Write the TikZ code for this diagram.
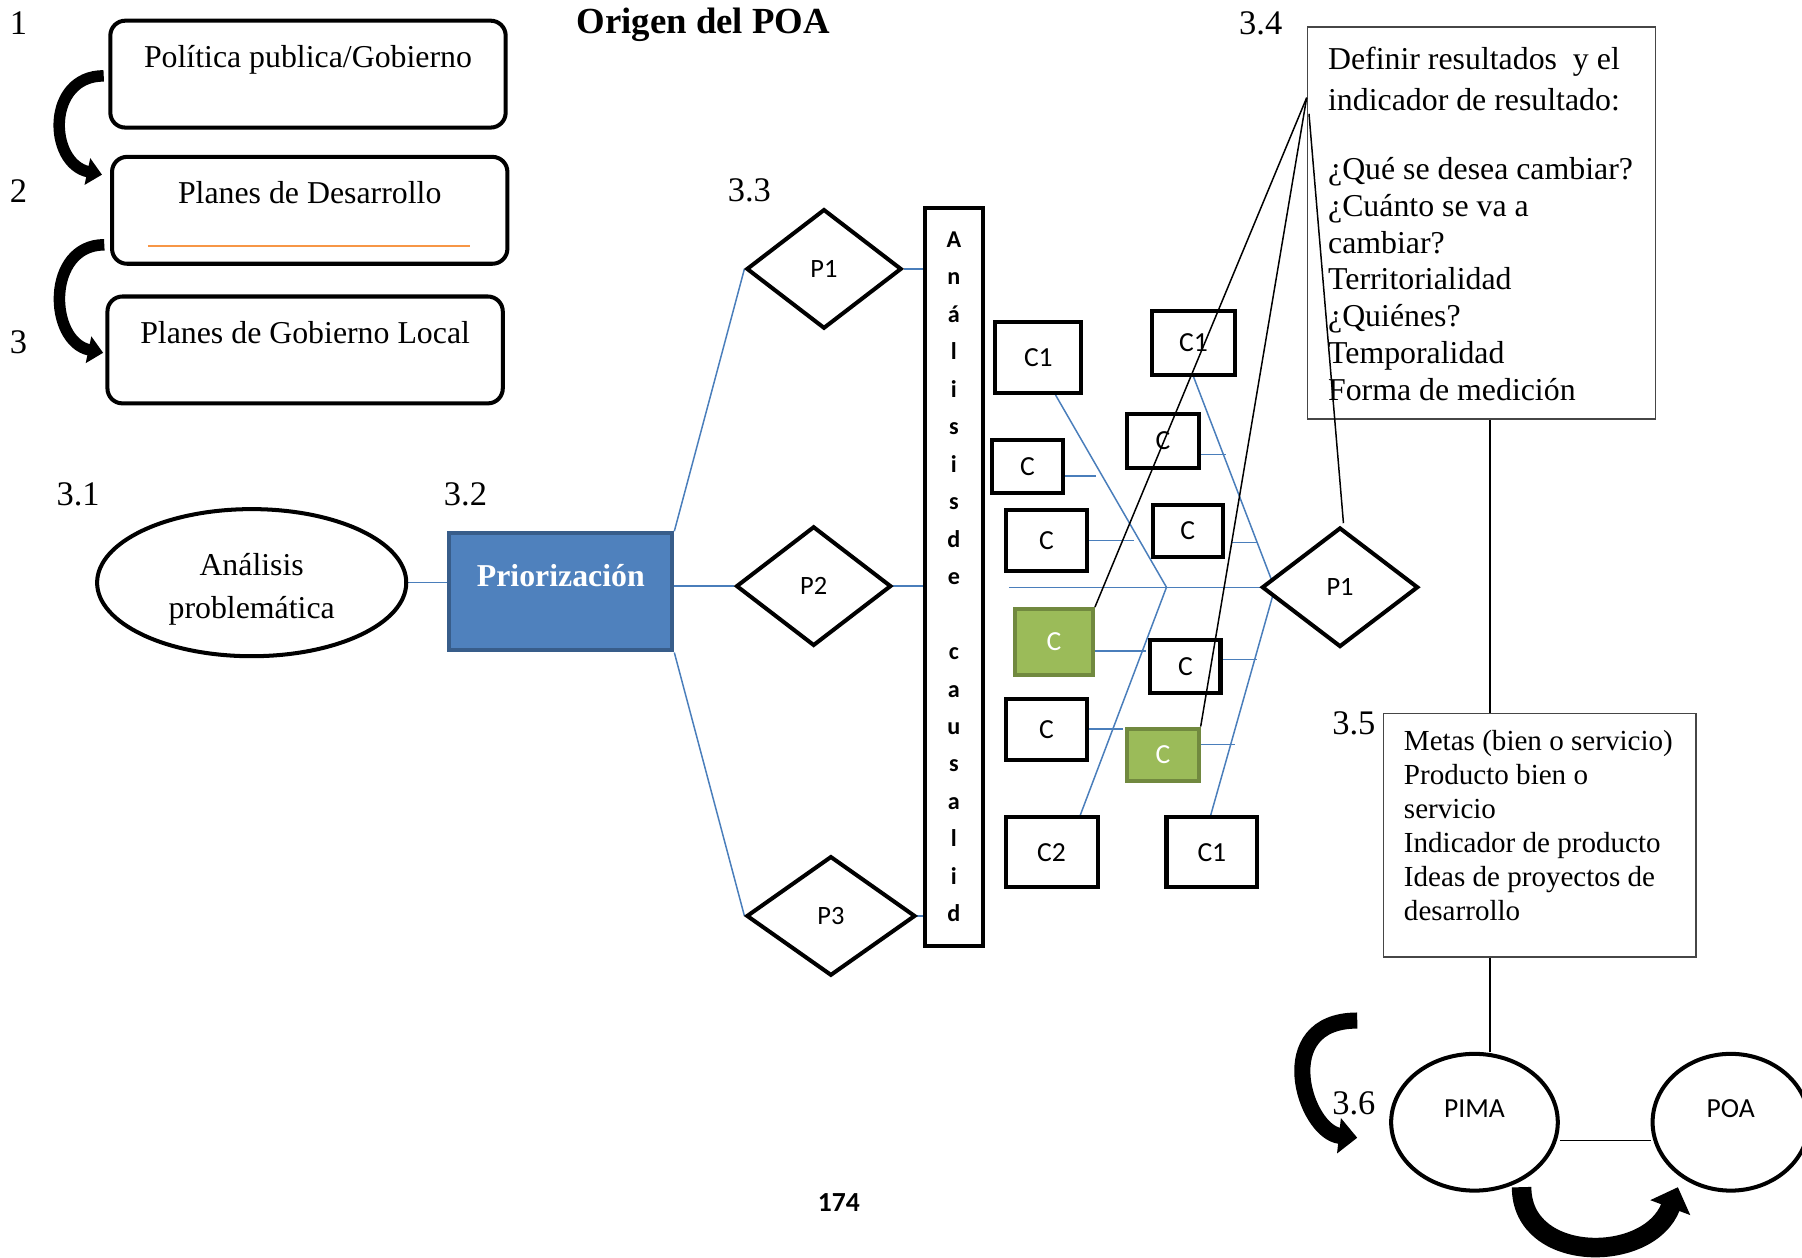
\documentclass[tikz,border=0pt]{standalone}
\usepackage{fontspec}
\setmainfont{Liberation Serif}
\newfontfamily\calib{Carlito}
\usetikzlibrary{shapes.geometric,arrows.meta,calc}
\pgfdeclarelayer{bg}
\pgfsetlayers{bg,main}

\definecolor{wblue}{RGB}{74,126,187}
\definecolor{pfill}{RGB}{79,129,189}
\definecolor{pdraw}{RGB}{56,93,138}
\definecolor{gfill}{RGB}{155,187,89}
\definecolor{gdraw}{RGB}{113,137,63}
\definecolor{orng}{RGB}{247,150,70}
\definecolor{frame}{RGB}{70,70,70}

\tikzset{
  num/.style={inner sep=0pt, font=\fontsize{30}{32}\selectfont},
  stage/.style={draw, line width=3.5pt, rounded corners=13pt, minimum width=344pt,
    minimum height=93pt, inner sep=0pt, font=\fontsize{27.7}{32}\selectfont,
    text height=17pt, text depth=29pt},
  prob/.style={diamond, draw, line width=3.5pt, fill=white, inner sep=0pt,
    minimum width=135pt, minimum height=104pt, font=\calib\fontsize{23}{24}\selectfont},
  cbox/.style={draw, line width=3.5pt, fill=white, inner sep=0pt,
    font=\calib\fontsize{24}{26}\selectfont},
  gbox/.style={cbox, draw=gdraw, fill=gfill, text=white},
  blueline/.style={draw=wblue, line width=1.3pt},
  blackline/.style={draw=black, line width=1.3pt},
  infobox/.style={draw=frame, line width=1.3pt, inner sep=0pt, fill=white},
  oval/.style={ellipse, draw, line width=3.5pt, inner sep=0pt},
  endoval/.style={oval, minimum height=119pt, font=\calib\fontsize{24}{26}\selectfont,
    text height=16pt, text depth=25pt},
  smallarrow/.style={line width=10pt, -{Triangle[length=13pt,width=23pt]}},
}

\begin{document}
\begin{tikzpicture}[x=1pt,y=-1pt]
\useasboundingbox (0,0) rectangle (1568,1094);

% ---------- steps 1 to 3 ----------
\node[num] (l1) at (16,20) {1};
\node[num] (l2) at (16,166) {2};
\node[num] (l3) at (16,298) {3};
\node[stage] (s1) at (268,64.5) {Política publica/Gobierno};
\node[stage] (s2) at (269.5,183) {Planes de Desarrollo};
\node[stage] (s3) at (265.5,304.5) {Planes de Gobierno Local};
\draw[orng, line width=1.8pt] ($(s2.south west)+(33,-17)$) -- ($(s2.south east)+(-34,-17)$);
\draw[smallarrow] ($(s1.west)+(-4,1.5)$) .. controls (40,66) and (42,142) .. ($(s2.west)+(-7,-31)$);
\draw[smallarrow] ($(s2.west)+(-5,30)$) .. controls (40,213) and (42,297) .. ($(s3.west)+(-2,2.5)$);

% ---------- title ----------
\node[inner sep=0pt, font=\bfseries\fontsize{32}{34}\selectfont] (title) at (612,22) {Origen del POA};

% ---------- 3.1 and 3.2 ----------
\node[num] (l31) at (68,430) {3.1};
\node[num] (l32) at (405,430) {3.2};
\node[oval, minimum width=269pt, minimum height=128pt, align=center,
      font=\fontsize{27.7}{37}\selectfont] (ana) at (219,507)
      {\rule{0pt}{31pt}Análisis\\problemática};
\node[draw=pdraw, fill=pfill, line width=3.5pt, minimum width=194pt, minimum height=102pt,
      inner sep=0pt, text=white, font=\bfseries\fontsize{27.7}{30}\selectfont,
      text height=18pt, text depth=27pt] (prio) at (488,515) {Priorización};

% ---------- 3.3 problems ----------
\node[num] (l33) at (652,166) {3.3};
\node[prob] (p1) at (717,234) {P1};
\node[prob] (p2) at (708,510) {P2};
\node[prob, minimum width=147pt] (p3) at (723,797) {P3};
\node[draw, line width=3.5pt, fill=white, minimum width=50pt, minimum height=642pt,
      inner sep=0pt, align=center, font=\calib\bfseries\fontsize{21}{32.6}\selectfont]
      (causal) at (830,502)
      {A\\n\\á\\l\\i\\s\\i\\s\\d\\e\\\mbox{}\\c\\a\\u\\s\\a\\l\\i\\d};

% ---------- causes ----------
\node[cbox, minimum width=75pt, minimum height=62pt] (c1a) at (903.5,311) {C1};
\node[cbox, minimum width=73pt, minimum height=55pt] (c1b) at (1038.5,298.5) {C1};
\node[cbox, minimum width=62pt, minimum height=46pt] (ca) at (894,406) {C};
\node[cbox, minimum width=62pt, minimum height=47pt] (cb) at (1012,383.5) {C};
\node[cbox, minimum width=71pt, minimum height=53pt] (cc) at (910.5,470.5) {C};
\node[cbox, minimum width=61pt, minimum height=46pt] (cd) at (1033.5,462) {C};
\node[gbox, minimum width=68pt, minimum height=57pt] (cg1) at (917,558.5) {C};
\node[cbox, minimum width=61pt, minimum height=46pt] (ce) at (1031.5,580) {C};
\node[cbox, minimum width=71pt, minimum height=53pt] (cf) at (910.5,634.5) {C};
\node[gbox, minimum width=62pt, minimum height=46pt] (cg2) at (1012,657) {C};
\node[cbox, minimum width=80pt, minimum height=61pt] (c2) at (915,741.5) {C2};
\node[cbox, minimum width=79pt, minimum height=61pt] (c1c) at (1054.5,741.5) {C1};
\node[prob, minimum width=136pt, minimum height=104pt] (pr) at (1166,511) {P1};

% ---------- 3.4 result box ----------
\node[num] (l34) at (1097,20) {3.4};
\node[infobox, anchor=north west] (b34) at (1137,23)
  {\begin{minipage}[t][341pt][t]{303pt}\raggedright\leftskip=18pt
   \fontsize{27.7}{32}\selectfont\vspace*{17pt}%
   Definir resultados~ y el\\[4pt]
   indicador de resultado:\\[28pt]
   ¿Qué se desea cambiar?\\
   ¿Cuánto se va a\\
   cambiar?\\
   Territorialidad\\
   ¿Quiénes?\\
   Temporalidad\\
   Forma de medición
   \end{minipage}};

% ---------- 3.5 goals box ----------
\node[num] (l35) at (1178,629) {3.5};
\node[infobox, anchor=north west] (b35) at (1203,620)
  {\begin{minipage}[t][212pt][t]{272pt}\raggedright\leftskip=18pt
   \fontsize{25.3}{29.5}\selectfont\vspace*{15pt}%
   Metas (bien o servicio)\\
   Producto bien o\\
   servicio\\
   Indicador de producto\\
   Ideas de proyectos de\\
   desarrollo
   \end{minipage}};

% ---------- 3.6 PIMA / POA ----------
\node[num] (l36) at (1178,960) {3.6};
\node[endoval, minimum width=145pt] (pima) at (1283,976.5) {PIMA};
\node[endoval, minimum width=136pt] (poa) at (1506,976.5) {POA};

% ---------- page number ----------
\node[inner sep=0pt, font=\calib\bfseries\fontsize{24}{26}\selectfont] (page) at (730,1046) {174};

% ---------- blue connectors (behind the shapes) ----------
\begin{pgfonlayer}{bg}
  \draw[blueline] (ana.east) -- (ana.east -| prio.west);
  \draw[blueline] (prio.north east) -- (p1.west);
  \draw[blueline] (p2.west -| prio.east) -- (p2.west);
  \draw[blueline] (prio.south east) -- (p3.west);
  \draw[blueline] (p1.east) -- (p1.east -| causal.west);
  \draw[blueline] (p2.east) -- (p2.east -| causal.west);
  \draw[blueline] (p3.east) -- (p3.east -| causal.west);
  % fishbone spine and bones
  \coordinate (sp) at ($(causal.east |- pr.west)+(21,0)$);
  \coordinate (j1) at (1015,511);
  \coordinate (pin) at ($(pr.west)+(13,1)$);
  \draw[blueline] (sp) -- (pr.west);
  \draw[blueline] ($(c1a.south)+(15,0)$) -- (j1) -- ($(c2.north)+(25,0)$);
  \draw[blueline] (c1b.south) -- (pin) -- ($(c1c.north)+(-1,0)$);
  % ribs
  \draw[blueline] ($(ca.east)+(0,8)$) -- ++(27,0);
  \draw[blueline] (cc.east) -- ++(39,0);
  \draw[blueline] ($(cb.east)+(0,12)$) -- ++(22,0);
  \draw[blueline] ($(cd.east)+(6,10)$) -- ++(22,0);
  \draw[blueline] ($(cg1.east)+(0,8)$) -- ++(44,0);
  \draw[blueline] ($(ce.east)+(0,-6)$) -- ++(30,0);
  \draw[blueline] (cf.east) -- ++(29,0);
  \draw[blueline] ($(cg2.east)+(0,-9)$) -- ++(30,0);
\end{pgfonlayer}

% ---------- black connectors ----------
\coordinate (k) at ($(b34.north west)+(0,62)$);
\coordinate (k2) at ($(b34.north west)+(2,76)$);
\draw[blackline] (k) -- (cg1.north east);
\draw[blackline] (k) -- (cg2.north east);
\draw[blackline] (k2) -- ($(pr.north)+(3,-2)$);
\coordinate (lx) at ($(b34.south)+(7.5,0)$);
\draw[blackline] (lx) -- (lx |- b35.north);
\draw[blackline] (lx |- b35.south) -- (lx |- pima.north);
\draw[blackline] ($(pima.east)+(0,16)$) -- ($(poa.west)+(0,16)$);

% ---------- curved arrows near PIMA ----------
\draw[line width=14pt, -{Triangle[length=16pt,width=30pt]}]
  (1181,888) .. controls (1105,888) and (1135,985) .. (1181,990);
\draw[line width=17pt, -{Triangle[length=19pt,width=36pt]}]
  (1324,1033) .. controls (1324,1100) and (1435,1100) .. (1460,1033);
\end{tikzpicture}
\end{document}
